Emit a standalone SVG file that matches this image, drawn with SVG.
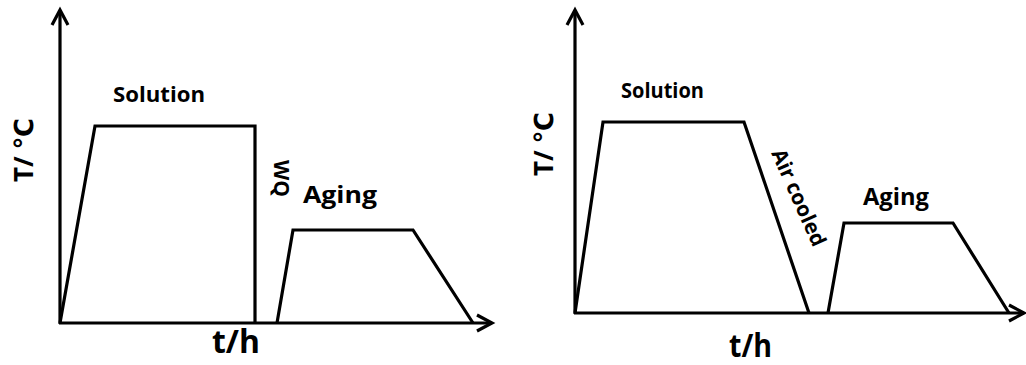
<svg xmlns="http://www.w3.org/2000/svg" width="1026" height="365" viewBox="0 0 1026 365">
  <style>
    .ln { fill: none; stroke: #000; stroke-width: 3.2; stroke-linejoin: miter; stroke-linecap: butt; }
    .ax { fill: none; stroke: #000; stroke-width: 3.2; marker-end: url(#arr); }
    .lb { font-family: "Open Sans", "Liberation Sans", "DejaVu Sans", sans-serif; font-weight: bold; fill: #000; }
  </style>
  <defs>
    <marker id="arr" markerUnits="userSpaceOnUse" viewBox="0 0 20 20" markerWidth="20" markerHeight="20" refX="18" refY="10" orient="auto" overflow="visible">
      <path d="M3,2 L18,10 L3,18" fill="none" stroke="#000" stroke-width="3.2" stroke-linejoin="miter"/>
    </marker>
  </defs>
  <rect width="1026" height="365" fill="#fff"/>

  <g id="left-panel">
    <g id="left-axes">
      <line class="ax" x1="60" y1="324" x2="60" y2="10"/>
      <line class="ax" x1="59" y1="323" x2="492" y2="323"/>
    </g>
    <g id="left-curves">
      <polyline class="ln" points="60,323 95,126 255,126 255,323"/>
      <polyline class="ln" points="277,323 293,230 413,230 473,323"/>
    </g>
    <g id="left-labels">
      <text class="lb" x="113" y="102" font-size="22" textLength="92" lengthAdjust="spacingAndGlyphs">Solution</text>
      <text class="lb" x="303" y="203" font-size="24" textLength="74" lengthAdjust="spacingAndGlyphs">Aging</text>
      <text class="lb" font-size="22" transform="translate(274,160) rotate(90)" textLength="37" lengthAdjust="spacingAndGlyphs">WQ</text>
      <text class="lb" font-size="26" text-anchor="middle" transform="translate(33,150) rotate(-90)">T/ ℃</text>
      <text class="lb" x="212" y="353" font-size="32" textLength="48" lengthAdjust="spacingAndGlyphs">t/h</text>
    </g>
  </g>

  <g id="right-panel">
    <g id="right-axes">
      <line class="ax" x1="575" y1="314" x2="575" y2="10"/>
      <line class="ax" x1="574" y1="313" x2="1024" y2="313"/>
    </g>
    <g id="right-curves">
      <polyline class="ln" points="575,313 603,122 744,122 809,313"/>
      <polyline class="ln" points="828,313 844,223 953,223 1009,313"/>
    </g>
    <g id="right-labels">
      <text class="lb" x="621" y="98" font-size="22" textLength="83" lengthAdjust="spacingAndGlyphs">Solution</text>
      <text class="lb" x="863" y="205" font-size="24" textLength="66" lengthAdjust="spacingAndGlyphs">Aging</text>
      <text class="lb" font-size="21" transform="translate(771,153) rotate(66)" textLength="104" lengthAdjust="spacingAndGlyphs">Air cooled</text>
      <text class="lb" font-size="26" text-anchor="middle" transform="translate(553,144) rotate(-90)">T/ ℃</text>
      <text class="lb" x="729" y="357" font-size="32" textLength="43" lengthAdjust="spacingAndGlyphs">t/h</text>
    </g>
  </g>
</svg>
